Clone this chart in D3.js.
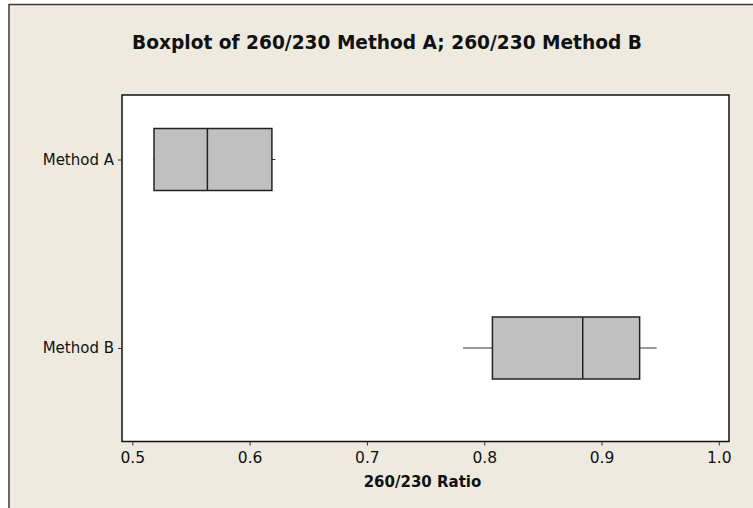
<!DOCTYPE html>
<html>
<head>
<meta charset="utf-8">
<script src="https://cdn.jsdelivr.net/npm/d3@7"></script>
<style>
  html, body { margin: 0; padding: 0; background: #ffffff; }
  svg { display: block; }
</style>
</head>
<body>
<svg id="chart" width="753" height="508"></svg>
<script>
// Five-number summaries of the 260/230 ratio for each method
const categories = ["Method A", "Method B"];
const mins    = [0.518, 0.782];
const q1s     = [0.5185, 0.807];
const medians = [0.564, 0.884];
const q3s     = [0.619, 0.9325];
const maxs    = [0.622, 0.947];
const xTicks  = [0.5, 0.6, 0.7, 0.8, 0.9, 1.0];

const titleText = "Boxplot of 260/230 Method A; 260/230 Method B";
const xTitle = "260/230 Ratio";

const svg = d3.select("#chart");
const W = 753, H = 508;
const plot = { left: 122, right: 729, top: 95, bottom: 441.5 };

// graph background with its frame (top and left edges show in the window)
svg.append("rect").attr("x", 9).attr("y", 4.5).attr("width", W + 20).attr("height", H + 20)
  .attr("fill", "#EEEAE0").attr("stroke", "#3a3a3a").attr("stroke-width", 1.5);

const x = d3.scaleLinear().domain([0.4912, 1.0087]).range([plot.left, plot.right]);
const y = d3.scalePoint().domain(categories).range([159.5, 348]);
const boxH = 62;

// data region
svg.append("rect")
  .attr("x", plot.left).attr("y", plot.top)
  .attr("width", plot.right - plot.left).attr("height", plot.bottom - plot.top)
  .attr("fill", "#ffffff").attr("stroke", "#111").attr("stroke-width", 1.5);

// x axis
const xAxis = d3.axisBottom(x).tickValues(xTicks).tickFormat(d3.format(".1f"))
  .tickSizeInner(4).tickSizeOuter(0).tickPadding(6);
const gx = svg.append("g").attr("transform", `translate(0,${plot.bottom})`).call(xAxis);
gx.select(".domain").remove();
gx.selectAll("line").attr("stroke", "#333");
gx.selectAll("text").attr("font-family", "DejaVu Sans").attr("font-size", 15.5).attr("fill", "#111");

// y axis
const yAxis = d3.axisLeft(y).tickSizeInner(4).tickSizeOuter(0).tickPadding(4);
const gy = svg.append("g").attr("transform", `translate(${plot.left},0)`).call(yAxis);
gy.select(".domain").remove();
gy.selectAll("line").attr("stroke", "#333");
gy.selectAll("text").attr("font-family", "DejaVu Sans").attr("font-size", 15).attr("fill", "#111");

// boxes
const rows = categories.map((c, i) => ({
  cat: c, min: mins[i], q1: q1s[i], med: medians[i], q3: q3s[i], max: maxs[i]
}));

const g = svg.append("g").selectAll("g").data(rows).join("g");

g.append("line")
  .attr("x1", d => x(d.min)).attr("x2", d => x(d.q1))
  .attr("y1", d => y(d.cat)).attr("y2", d => y(d.cat))
  .attr("stroke", "#333").attr("stroke-width", 1);
g.append("line")
  .attr("x1", d => x(d.q3)).attr("x2", d => x(d.max))
  .attr("y1", d => y(d.cat)).attr("y2", d => y(d.cat))
  .attr("stroke", "#333").attr("stroke-width", 1);
g.append("rect")
  .attr("x", d => x(d.q1)).attr("width", d => x(d.q3) - x(d.q1))
  .attr("y", d => y(d.cat) - boxH / 2).attr("height", boxH)
  .attr("fill", "#C0C0C0").attr("stroke", "#222").attr("stroke-width", 1.5);
g.append("line")
  .attr("x1", d => x(d.med)).attr("x2", d => x(d.med))
  .attr("y1", d => y(d.cat) - boxH / 2).attr("y2", d => y(d.cat) + boxH / 2)
  .attr("stroke", "#222").attr("stroke-width", 1.5);

// titles
const t = svg.append("text").text(titleText)
  .attr("x", 387).attr("y", 49).attr("text-anchor", "middle")
  .attr("font-family", "DejaVu Sans").attr("font-weight", "bold").attr("font-size", 17)
  .attr("fill", "#111");
const tw = t.node().getComputedTextLength();
t.attr("font-size", 17 * 510 / tw);

svg.append("text").text(xTitle)
  .attr("x", (plot.left + plot.right) / 2 - 3).attr("y", 487).attr("text-anchor", "middle")
  .attr("font-family", "DejaVu Sans").attr("font-weight", "bold").attr("font-size", 15)
  .attr("fill", "#111");
</script>
</body>
</html>
